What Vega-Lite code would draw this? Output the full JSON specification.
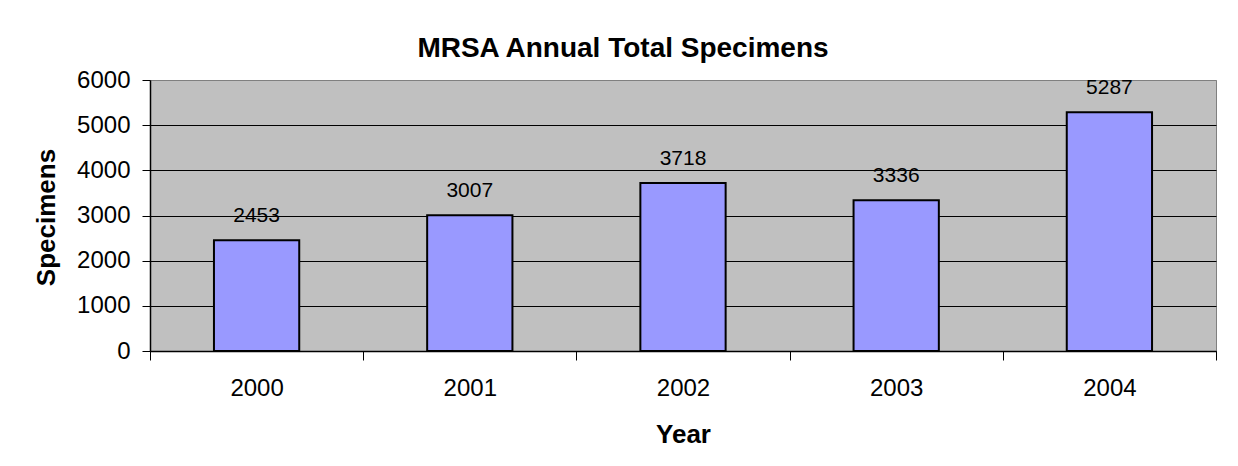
{
  "$schema": "https://vega.github.io/schema/vega-lite/v6.json",
  "width": 1066,
  "height": 271,
  "autosize": {"type": "none"},
  "padding": {"left": 150, "top": 80, "right": 22, "bottom": 115},
  "background": "white",
  "title": {
    "text": "MRSA Annual Total Specimens",
    "font": "Liberation Sans",
    "fontSize": 28,
    "fontWeight": "bold",
    "color": "black",
    "anchor": "middle",
    "offset": 5,
    "dx": -60
  },
  "config": {
    "font": "Liberation Sans",
    "view": {"fill": "#C0C0C0", "stroke": "#808080", "strokeWidth": 1}
  },
  "data": {
    "values": [
      {"Year": "2000", "Specimens": 2453},
      {"Year": "2001", "Specimens": 3007},
      {"Year": "2002", "Specimens": 3718},
      {"Year": "2003", "Specimens": 3336},
      {"Year": "2004", "Specimens": 5287}
    ]
  },
  "encoding": {
    "x": {
      "field": "Year",
      "type": "ordinal",
      "scale": {"paddingInner": 0, "paddingOuter": 0},
      "axis": {
        "title": "Year",
        "titleFont": "Liberation Sans",
        "titleFontSize": 26,
        "titleFontWeight": "bold",
        "titleColor": "black",
        "titleX": 533,
        "titleY": 83,
        "titleBaseline": "middle",
        "titleAlign": "center",
        "labelAngle": 0,
        "labelFont": "Liberation Sans",
        "labelFontSize": 24,
        "labelColor": "black",
        "labelPadding": 16,
        "ticks": true,
        "tickBand": "extent",
        "tickExtra": true,
        "tickSize": 9,
        "tickColor": "black",
        "tickWidth": 1,
        "tickOpacity": 1,
        "domainColor": "black",
        "domainWidth": 1.5,
        "grid": false
      }
    },
    "y": {
      "field": "Specimens",
      "type": "quantitative",
      "scale": {"domain": [0, 6000], "nice": false},
      "axis": {
        "title": "Specimens",
        "titleFont": "Liberation Sans",
        "titleFontSize": 26,
        "titleFontWeight": "bold",
        "titleColor": "black",
        "titleAngle": -90,
        "titleX": -104,
        "titleY": 137,
        "titleBaseline": "middle",
        "titleAlign": "center",
        "values": [0, 1000, 2000, 3000, 4000, 5000, 6000],
        "format": "d",
        "labelFont": "Liberation Sans",
        "labelFontSize": 24,
        "labelColor": "black",
        "labelPadding": 12,
        "tickSize": 8,
        "tickColor": "black",
        "tickWidth": 1,
        "domainColor": "black",
        "domainWidth": 1.5,
        "grid": true,
        "gridColor": {"condition": {"test": "datum.value == 6000", "value": "#808080"}, "value": "black"},
        "gridWidth": 1,
        "gridOpacity": 1
      }
    }
  },
  "layer": [
    {
      "mark": {"type": "bar", "fill": "#9999FF", "stroke": "black", "strokeWidth": 2, "width": {"band": 0.4}}
    },
    {
      "mark": {
        "type": "text",
        "baseline": "alphabetic",
        "align": "center",
        "dy": -18,
        "font": "Liberation Sans",
        "fontSize": 21,
        "color": "black"
      },
      "encoding": {"text": {"field": "Specimens", "type": "quantitative", "format": "d"}}
    }
  ]
}
